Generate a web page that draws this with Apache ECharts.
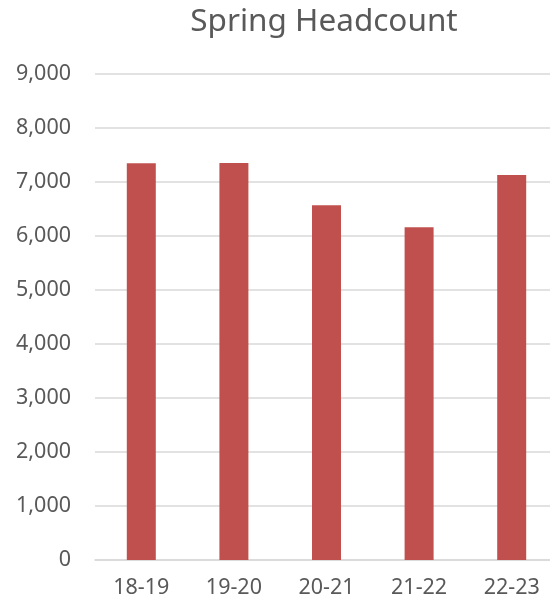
<!DOCTYPE html>
<html>
<head>
<meta charset="utf-8">
<script src="https://cdn.jsdelivr.net/npm/echarts@6/dist/echarts.min.js"></script>
<style>html,body{margin:0;padding:0;background:#fff;overflow:hidden;width:550px;height:603px}#c{width:558px;height:603px}</style>
</head>
<body>
<div id="c"></div>
<script>
var categories = ['18-19', '19-20', '20-21', '21-22', '22-23'];
var headcount = [7346, 7352, 6568, 6161, 7130];
var yTicks = { min: 0, max: 9000, interval: 1000 };
var titleText = 'Spring Headcount';

var chart = echarts.init(document.getElementById('c'), null, { renderer: 'canvas' });
var font = 'Noto Sans';
chart.setOption({
  animation: false,
  backgroundColor: '#ffffff',
  title: {
    text: titleText,
    left: 319, top: 1,
    textAlign: 'center',
    textStyle: { fontFamily: font, fontSize: 31.5, fontWeight: 'normal', color: '#595959' }
  },
  grid: { left: 95, top: 74, bottom: 43, right: 0, containLabel: false },
  xAxis: {
    type: 'category',
    data: categories,
    axisLine: { show: true, lineStyle: { color: '#d9d9d9', width: 1.5 } },
    axisTick: { show: false },
    axisLabel: { fontFamily: font, fontSize: 21.5, color: '#595959', margin: 17 }
  },
  yAxis: {
    type: 'value',
    min: yTicks.min, max: yTicks.max, interval: yTicks.interval,
    axisLine: { show: false },
    axisTick: { show: false },
    splitLine: { lineStyle: { color: '#d9d9d9', width: 1.5 } },
    axisLabel: {
      fontFamily: font, fontSize: 21.5, color: '#595959', margin: 24,
      formatter: function (v) { return v.toLocaleString('en-US'); }
    }
  },
  series: [{
    type: 'bar',
    data: headcount,
    barWidth: 29,
    itemStyle: { color: '#C0504D' }
  }]
});
</script>
</body>
</html>
